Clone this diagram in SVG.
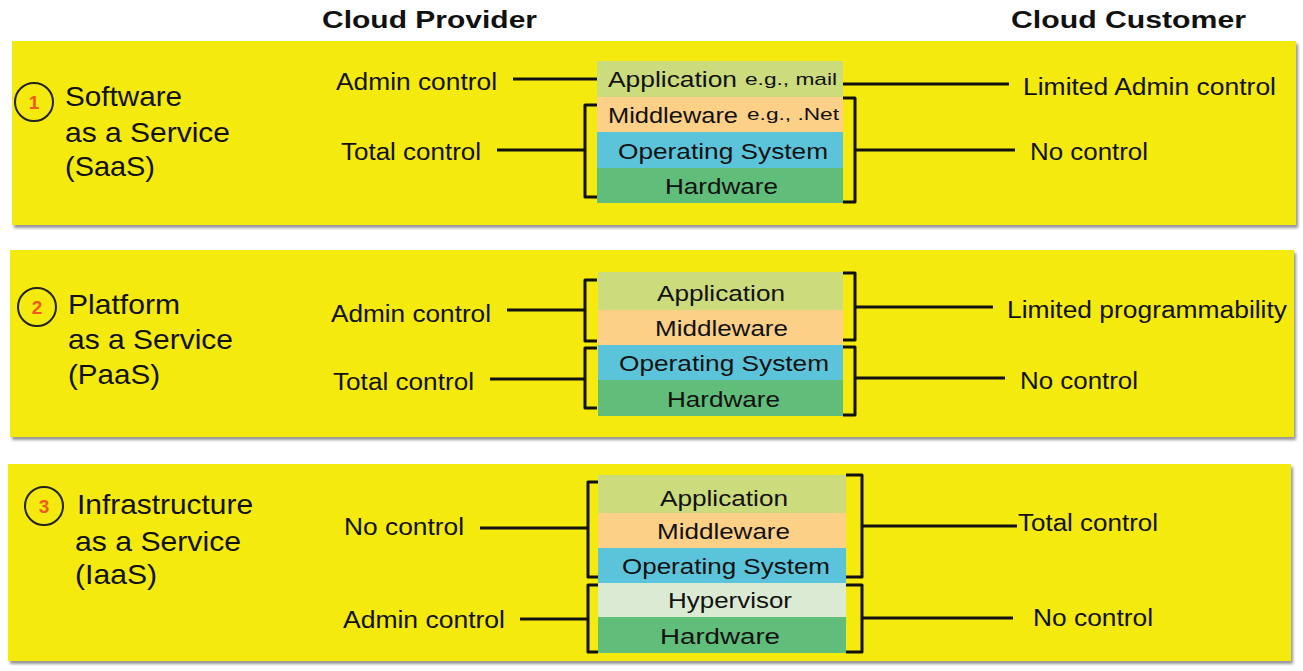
<svg xmlns="http://www.w3.org/2000/svg" width="1303" height="671" viewBox="0 0 1303 671">
<style>
text{font-family:"Liberation Sans",Arial,sans-serif;fill:#111}
.hd{font-size:23px;font-weight:bold}
.ttl{font-size:28px}
.lbl{font-size:23px}
.bx{font-size:21.5px}
.sm{font-size:17px}
.num{font-size:19px;font-weight:bold;fill:#f25a1d;text-anchor:middle}
.panel{fill:#f4ea10;filter:url(#sh)}
.circ{fill:none;stroke:#222;stroke-width:2}
.ln{fill:none;stroke:#111;stroke-width:3;stroke-linejoin:round}
.app{fill:#ccdb7b}.mw{fill:#fdd087}.os{fill:#5cc4da}.hw{fill:#61bd7a}.hv{fill:#dbebd3}
</style>
<defs>
<filter id="sh" x="-2%" y="-5%" width="104%" height="115%">
<feDropShadow dx="2" dy="3" stdDeviation="1.5" flood-color="#666" flood-opacity="0.7"/>
</filter>
</defs>

<g id="headers">
<text class="hd" x="322" y="28" textLength="215" lengthAdjust="spacingAndGlyphs">Cloud Provider</text>
<text class="hd" x="1011" y="28" textLength="235" lengthAdjust="spacingAndGlyphs">Cloud Customer</text>
</g>

<g id="panel-saas">
<rect class="panel" x="12" y="41" width="1284" height="184"/>
<circle class="circ" cx="34" cy="102" r="19"/>
<text class="num" x="34" y="109">1</text>
<text class="ttl" x="65" y="106" textLength="117" lengthAdjust="spacingAndGlyphs">Software</text>
<text class="ttl" x="65" y="142" textLength="165" lengthAdjust="spacingAndGlyphs">as a Service</text>
<text class="ttl" x="65" y="176" textLength="90" lengthAdjust="spacingAndGlyphs">(SaaS)</text>
<text class="lbl" x="336" y="90" textLength="161" lengthAdjust="spacingAndGlyphs">Admin control</text>
<text class="lbl" x="341" y="160" textLength="140" lengthAdjust="spacingAndGlyphs">Total control</text>
<text class="lbl" x="1023" y="95" textLength="253" lengthAdjust="spacingAndGlyphs">Limited Admin control</text>
<text class="lbl" x="1030" y="160" textLength="118" lengthAdjust="spacingAndGlyphs">No control</text>
<g id="stack-saas">
<rect class="app" x="597" y="61" width="246" height="36"/>
<rect class="mw" x="597" y="97" width="246" height="35"/>
<rect class="os" x="597" y="132" width="246" height="36"/>
<rect class="hw" x="597" y="168" width="246" height="35"/>
<text class="bx" x="608" y="87" textLength="129" lengthAdjust="spacingAndGlyphs">Application</text>
<text class="sm" x="745" y="85" textLength="92" lengthAdjust="spacingAndGlyphs">e.g., mail</text>
<text class="bx" x="608" y="123" textLength="130" lengthAdjust="spacingAndGlyphs">Middleware</text>
<text class="sm" x="747" y="120" textLength="92" lengthAdjust="spacingAndGlyphs">e.g., .Net</text>
<text class="bx" x="618" y="159" textLength="210" lengthAdjust="spacingAndGlyphs">Operating System</text>
<text class="bx" x="665" y="194" textLength="113" lengthAdjust="spacingAndGlyphs">Hardware</text>
</g>
</g>

<g id="panel-paas">
<rect class="panel" x="10" y="250" width="1284" height="187"/>
<circle class="circ" cx="37" cy="307" r="19"/>
<text class="num" x="37" y="314">2</text>
<text class="ttl" x="68" y="314" textLength="112" lengthAdjust="spacingAndGlyphs">Platform</text>
<text class="ttl" x="68" y="349" textLength="165" lengthAdjust="spacingAndGlyphs">as a Service</text>
<text class="ttl" x="68" y="384" textLength="92" lengthAdjust="spacingAndGlyphs">(PaaS)</text>
<text class="lbl" x="331" y="322" textLength="160" lengthAdjust="spacingAndGlyphs">Admin control</text>
<text class="lbl" x="333" y="390" textLength="141" lengthAdjust="spacingAndGlyphs">Total control</text>
<text class="lbl" x="1007" y="318" textLength="280" lengthAdjust="spacingAndGlyphs">Limited programmability</text>
<text class="lbl" x="1020" y="389" textLength="118" lengthAdjust="spacingAndGlyphs">No control</text>
<g id="stack-paas">
<rect class="app" x="598" y="272" width="245" height="38"/>
<rect class="mw" x="598" y="310" width="245" height="35"/>
<rect class="os" x="598" y="345" width="245" height="35"/>
<rect class="hw" x="598" y="380" width="245" height="36"/>
<text class="bx" x="657" y="301" textLength="128" lengthAdjust="spacingAndGlyphs">Application</text>
<text class="bx" x="655" y="336" textLength="133" lengthAdjust="spacingAndGlyphs">Middleware</text>
<text class="bx" x="619" y="371" textLength="210" lengthAdjust="spacingAndGlyphs">Operating System</text>
<text class="bx" x="667" y="407" textLength="113" lengthAdjust="spacingAndGlyphs">Hardware</text>
</g>
</g>

<g id="panel-iaas">
<rect class="panel" x="8" y="464" width="1283" height="197"/>
<circle class="circ" cx="44" cy="506" r="19"/>
<text class="num" x="44" y="513">3</text>
<text class="ttl" x="77" y="514" textLength="176" lengthAdjust="spacingAndGlyphs">Infrastructure</text>
<text class="ttl" x="75" y="551" textLength="166" lengthAdjust="spacingAndGlyphs">as a Service</text>
<text class="ttl" x="75" y="584" textLength="82" lengthAdjust="spacingAndGlyphs">(IaaS)</text>
<text class="lbl" x="344" y="535" textLength="120" lengthAdjust="spacingAndGlyphs">No control</text>
<text class="lbl" x="343" y="628" textLength="162" lengthAdjust="spacingAndGlyphs">Admin control</text>
<text class="lbl" x="1018" y="531" textLength="140" lengthAdjust="spacingAndGlyphs">Total control</text>
<text class="lbl" x="1033" y="626" textLength="120" lengthAdjust="spacingAndGlyphs">No control</text>
<g id="stack-iaas">
<rect class="app" x="598" y="475" width="248" height="38"/>
<rect class="mw" x="598" y="513" width="248" height="35"/>
<rect class="os" x="598" y="548" width="248" height="35"/>
<rect class="hv" x="598" y="583" width="248" height="34"/>
<rect class="hw" x="598" y="617" width="248" height="36"/>
<text class="bx" x="660" y="506" textLength="128" lengthAdjust="spacingAndGlyphs">Application</text>
<text class="bx" x="657" y="539" textLength="133" lengthAdjust="spacingAndGlyphs">Middleware</text>
<text class="bx" x="622" y="574" textLength="208" lengthAdjust="spacingAndGlyphs">Operating System</text>
<text class="bx" x="668" y="608" textLength="124" lengthAdjust="spacingAndGlyphs">Hypervisor</text>
<text class="bx" x="660" y="644" textLength="120" lengthAdjust="spacingAndGlyphs">Hardware</text>
</g>
</g>

<g id="connectors">
<path class="ln" d="M513 79 H597"/>
<path class="ln" d="M843 84 H1009"/>
<path class="ln" d="M597 105 H585 V197 H597 M497 150 H585"/>
<path class="ln" d="M843 98 H855 V202 H843 M855 150 H1015"/>
<path class="ln" d="M597 280 H585 V341 H597 M507 310 H585"/>
<path class="ln" d="M597 348 H585 V408 H597 M490 379 H585"/>
<path class="ln" d="M843 273 H855 V340 H843 M855 307 H993"/>
<path class="ln" d="M843 347 H855 V415 H843 M855 378 H1005"/>
<path class="ln" d="M598 482 H588 V577 H598 M480 528 H588"/>
<path class="ln" d="M598 585 H588 V652 H598 M520 619 H588"/>
<path class="ln" d="M846 475 H862 V577 H846 M862 526 H1017"/>
<path class="ln" d="M846 585 H862 V652 H846 M862 618 H1013"/>
</g>
</svg>
